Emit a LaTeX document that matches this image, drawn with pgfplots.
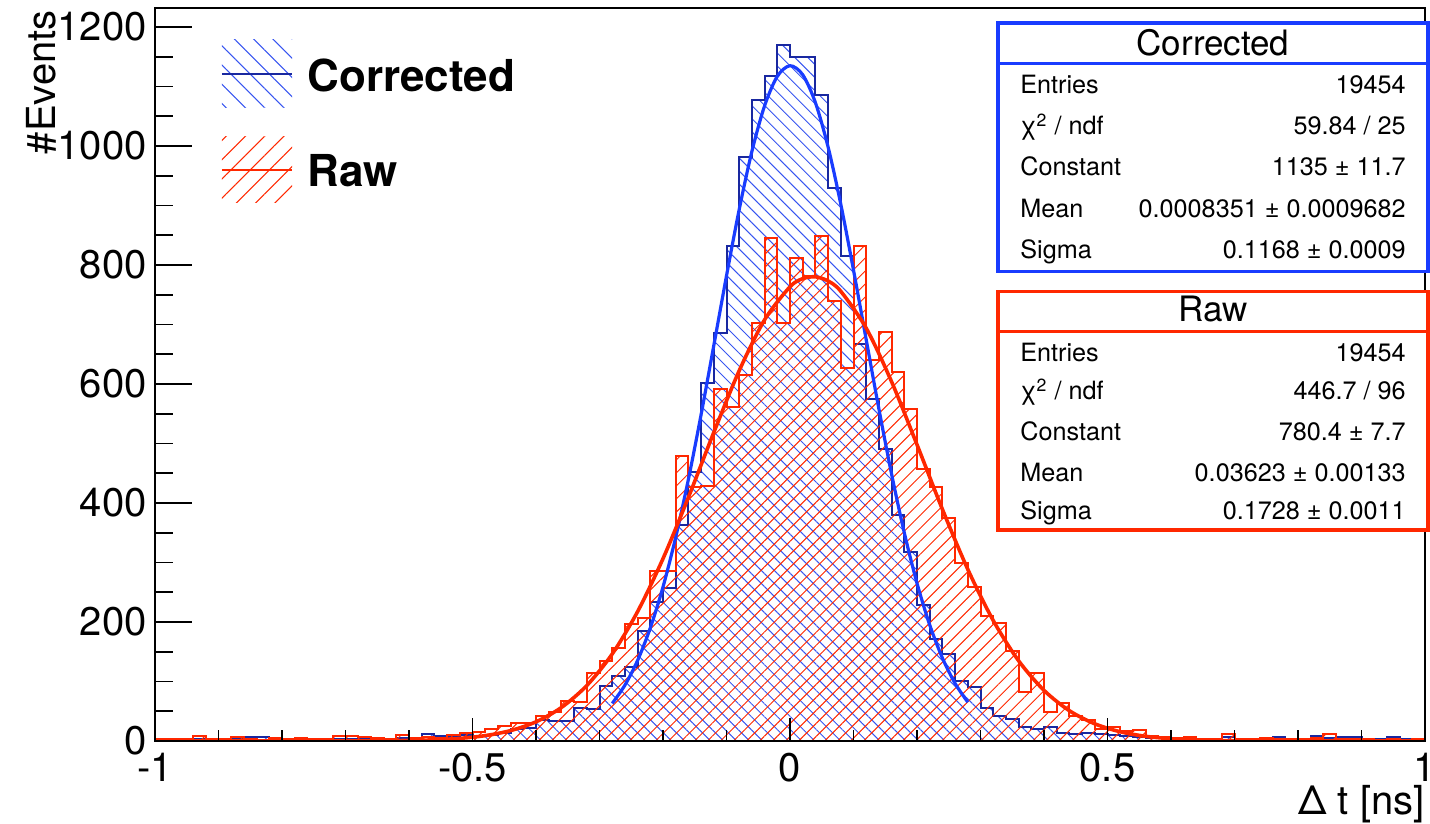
\documentclass[border=0pt]{standalone}
\usepackage{fontspec}
\setmainfont{TeX Gyre Heros}
\usepackage{pgfplots}
\usepackage{pgfplotstable}
\pgfplotsset{compat=1.18}
\usetikzlibrary{patterns.meta}
\definecolor{bline}{RGB}{25,40,160}
\definecolor{bhatch}{RGB}{55,85,240}
\definecolor{bfit}{RGB}{25,60,255}
\definecolor{rline}{RGB}{255,40,0}
\newcommand{\statfont}{\fontsize{12.6}{14}\selectfont}

\pgfplotstableread{
x y
-1.00 3
-0.98 2
-0.96 4
-0.94 3
-0.92 4
-0.90 3
-0.88 5
-0.86 7
-0.84 7
-0.82 4
-0.80 3
-0.78 4
-0.76 3
-0.74 2
-0.72 4
-0.70 3
-0.68 4
-0.66 3
-0.64 4
-0.62 5
-0.60 4
-0.58 12
-0.56 8
-0.54 6
-0.52 10
-0.50 8
-0.48 10
-0.46 13
-0.44 20
-0.42 22
-0.40 35
-0.38 34
-0.36 34
-0.34 55
-0.32 53
-0.30 92
-0.28 109
-0.26 124
-0.24 185
-0.22 234
-0.20 257
-0.18 363
-0.16 452
-0.14 601
-0.12 686
-0.10 832
-0.08 982
-0.06 1077
-0.04 1117
-0.02 1170
0.00 1149
0.02 1149
0.04 1085
0.06 930
0.08 815
0.10 667
0.12 575
0.14 491
0.16 380
0.18 318
0.20 229
0.22 172
0.24 146
0.26 101
0.28 90
0.30 55
0.32 42
0.34 37
0.36 24
0.38 20
0.40 24
0.42 14
0.44 11
0.46 13
0.48 12
0.50 10
0.52 8
0.54 7
0.56 5
0.58 5
0.60 4
0.62 3
0.64 4
0.66 3
0.68 7
0.70 3
0.72 2
0.74 4
0.76 7
0.78 3
0.80 4
0.82 8
0.84 5
0.86 7
0.88 7
0.90 3
0.92 4
0.94 7
0.96 3
0.98 2
1.00 2
}\corr

\pgfplotstableread{
x y
-1.00 3
-0.98 4
-0.96 4
-0.94 8
-0.92 3
-0.90 4
-0.88 7
-0.86 4
-0.84 2
-0.82 5
-0.80 3
-0.78 5
-0.76 3
-0.74 3
-0.72 8
-0.70 8
-0.68 7
-0.66 5
-0.64 4
-0.62 10
-0.60 5
-0.58 7
-0.56 5
-0.54 10
-0.52 13
-0.50 15
-0.48 21
-0.46 26
-0.44 30
-0.42 30
-0.40 42
-0.38 49
-0.36 68
-0.34 66
-0.32 114
-0.30 134
-0.28 156
-0.26 196
-0.24 206
-0.22 286
-0.20 286
-0.18 479
-0.16 427
-0.14 429
-0.12 591
-0.10 562
-0.08 615
-0.06 703
-0.04 845
-0.02 703
0.00 811
0.02 782
0.04 849
0.06 740
0.08 627
0.10 832
0.12 640
0.14 687
0.16 621
0.18 558
0.20 457
0.22 427
0.24 375
0.26 299
0.28 258
0.30 210
0.32 199
0.34 151
0.36 83
0.38 114
0.40 48
0.42 64
0.44 42
0.46 35
0.48 20
0.50 24
0.52 17
0.54 19
0.56 8
0.58 7
0.60 5
0.62 7
0.64 4
0.66 3
0.68 11
0.70 4
0.72 3
0.74 5
0.76 3
0.78 4
0.80 3
0.82 5
0.84 11
0.86 3
0.88 4
0.90 3
0.92 2
0.94 3
0.96 2
0.98 3
1.00 3
}\raw

\pgfplotstableread{
x y
-0.28 63.1
-0.26 93.8
-0.24 135.4
-0.22 190.0
-0.20 258.8
-0.18 342.4
-0.16 439.8
-0.14 548.6
-0.12 664.7
-0.10 781.9
-0.08 893.3
-0.06 991.0
-0.04 1067.7
-0.02 1117.1
0.00 1135.0
0.02 1119.8
0.04 1073.0
0.06 998.3
0.08 902.1
0.10 791.5
0.12 674.5
0.14 558.1
0.16 448.5
0.18 350.0
0.20 265.2
0.22 195.2
0.24 139.5
0.26 96.8
0.28 65.2
}\corrfit

\pgfplotstableread{
x y
-1.00 0.0
-0.80 0.01
-0.70 0.09
-0.60 0.89
-0.56 2.03
-0.52 4.39
-0.48 9.00
-0.44 17.50
-0.40 32.24
-0.36 56.31
-0.32 93.21
-0.28 146.2
-0.24 217.5
-0.20 306.5
-0.16 409.5
-0.12 518.6
-0.08 622.4
-0.04 708.0
0.00 763.4
0.02 777.0
0.04 780.2
0.06 773.1
0.08 755.8
0.12 693.9
0.16 603.8
0.20 498.1
0.24 389.4
0.28 288.5
0.32 202.6
0.36 134.9
0.40 85.1
0.44 50.9
0.48 28.9
0.52 15.5
0.56 7.89
0.60 3.81
0.64 1.74
0.70 0.49
0.80 0.04
0.90 0.0
1.00 0.0
}\rawfit

\begin{document}
\begin{tikzpicture}
\begin{axis}[name=ax, scale only axis, width=635pt, height=366.5pt,
  xmin=-1, xmax=1, ymin=0, ymax=1232,
  axis line style={line width=1pt},
  xtick=\empty,
  ytick={0,200,400,600,800,1000,1200},
  yticklabels={0,200,400,600,800,1000,1200},
  minor y tick num=3,
  ytick pos=left, tick align=inside,
  major tick length=18.5pt, minor tick length=9pt,
  tick style={black, line width=0.9pt},
  yticklabel style={font=\fontsize{20}{24}\selectfont, inner sep=0pt, xshift=-4pt},
]
\addplot[const plot, draw=bline, line width=1pt,
  pattern={Lines[angle=-45,distance=4.6pt,line width=0.5pt]}, pattern color=bhatch]
  table {\corr} \closedcycle;
\addplot[const plot, draw=rline, line width=1pt,
  pattern={Lines[angle=45,distance=4.6pt,line width=0.5pt]}, pattern color=rline]
  table {\raw} \closedcycle;
\addplot[smooth, draw=bfit, line width=1.6pt] table {\corrfit};
\addplot[smooth, draw=rline, line width=1.8pt] table {\rawfit};
\end{axis}
\begin{axis}[scale only axis, width=635pt, height=366.5pt,
  xmin=-1, xmax=1, ymin=0, ymax=1232,
  axis line style={line width=1pt},
  ytick=\empty,
  xtick={-1,-0.5,0,0.5,1},
  xticklabels={-1,-0.5,0,0.5,1},
  minor x tick num=4,
  xtick pos=bottom, tick align=inside,
  major tick length=11.5pt, minor tick length=5.5pt,
  tick style={black, line width=0.9pt},
  xticklabel style={font=\fontsize{20}{24}\selectfont, inner sep=0pt, yshift=-6pt},
]
\end{axis}
\begin{scope}[shift={(ax.south west)}, x=1pt, y=1pt]
  % axis titles
  \node[anchor=base east, inner sep=0pt, font=\fontsize{20}{24}\selectfont] at (635,-37) {Δ t [ns]};
  \node[rotate=90, anchor=base east, inner sep=0pt, font=\fontsize{20}{24}\selectfont] at (-49.5,365.5) {\#Events};
  % legend
  \path[pattern={Lines[angle=-45,distance=6.8pt,line width=0.5pt]}, pattern color=bhatch] (33.5,316.5) rectangle (68.5,350.5);
  \draw[bline, line width=1pt] (33.5,333.5) -- (68.5,333.5);
  \node[anchor=base west, inner sep=0pt, font=\fontsize{22}{26}\selectfont\bfseries] at (76,324.5) {Corrected};
  \path[pattern={Lines[angle=45,distance=6.8pt,line width=0.5pt]}, pattern color=rline] (33.5,269) rectangle (68.5,302);
  \draw[rline, line width=1pt] (33.5,285.5) -- (68.5,285.5);
  \node[anchor=base west, inner sep=0pt, font=\fontsize{22}{26}\selectfont\bfseries] at (76,277) {Raw};
  % stats box corrected
  \draw[bfit, line width=1.6pt, fill=white] (421.5,234.7) rectangle (636.5,359);
  \draw[bfit, line width=1.6pt] (421.5,338.8) -- (636.5,338.8);
  \node[anchor=base, inner sep=0pt, font=\fontsize{17.5}{20}\selectfont] at (529,342.5) {Corrected};
  \node[anchor=base west, inner sep=0pt, font=\statfont] at (432.5,323.5) {Entries};
  \node[anchor=base east, inner sep=0pt, font=\statfont] at (625.5,323.5) {19454};
  \node[anchor=base west, inner sep=0pt, font=\statfont] at (432.5,303) {χ\textsuperscript{2} / ndf};
  \node[anchor=base east, inner sep=0pt, font=\statfont] at (625.5,303) {59.84 / 25};
  \node[anchor=base west, inner sep=0pt, font=\statfont] at (432.5,282.5) {Constant};
  \node[anchor=base east, inner sep=0pt, font=\statfont] at (625.5,282.5) {1135 ± 11.7};
  \node[anchor=base west, inner sep=0pt, font=\statfont] at (432.5,261.5) {Mean};
  \node[anchor=base east, inner sep=0pt, font=\statfont] at (625.5,261.5) {0.0008351 ± 0.0009682};
  \node[anchor=base west, inner sep=0pt, font=\statfont] at (432.5,241) {Sigma};
  \node[anchor=base east, inner sep=0pt, font=\statfont] at (625.5,241) {0.1168 ± 0.0009};
  % stats box raw
  \draw[rline, line width=1.6pt, fill=white] (421.5,105.5) rectangle (636.5,224.7);
  \draw[rline, line width=1.6pt] (421.5,204.7) -- (636.5,204.7);
  \node[anchor=base, inner sep=0pt, font=\fontsize{17.5}{20}\selectfont] at (529,209.7) {Raw};
  \node[anchor=base west, inner sep=0pt, font=\statfont] at (432.5,189.7) {Entries};
  \node[anchor=base east, inner sep=0pt, font=\statfont] at (625.5,189.7) {19454};
  \node[anchor=base west, inner sep=0pt, font=\statfont] at (432.5,170.5) {χ\textsuperscript{2} / ndf};
  \node[anchor=base east, inner sep=0pt, font=\statfont] at (625.5,170.5) {446.7 / 96};
  \node[anchor=base west, inner sep=0pt, font=\statfont] at (432.5,150.2) {Constant};
  \node[anchor=base east, inner sep=0pt, font=\statfont] at (625.5,150.2) {780.4 ± 7.7};
  \node[anchor=base west, inner sep=0pt, font=\statfont] at (432.5,129.7) {Mean};
  \node[anchor=base east, inner sep=0pt, font=\statfont] at (625.5,129.7) {0.03623 ± 0.00133};
  \node[anchor=base west, inner sep=0pt, font=\statfont] at (432.5,110.5) {Sigma};
  \node[anchor=base east, inner sep=0pt, font=\statfont] at (625.5,110.5) {0.1728 ± 0.0011};
\end{scope}
\pgfresetboundingbox
\path[use as bounding box] ([xshift=-77.5pt,yshift=-41.5pt]ax.south west) rectangle ([xshift=2.5pt,yshift=4pt]ax.north east);
\end{tikzpicture}
\end{document}
